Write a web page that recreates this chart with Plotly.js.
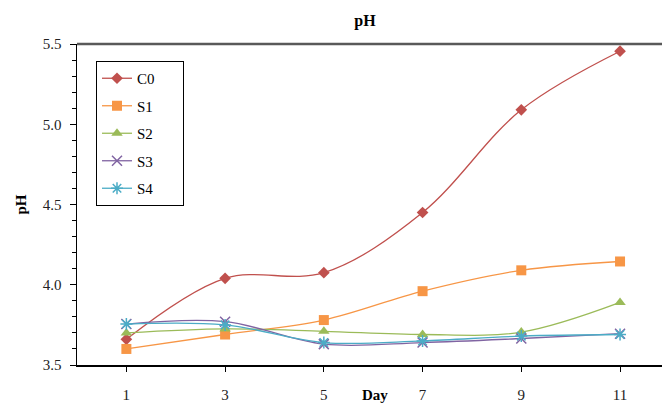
<!DOCTYPE html>
<html>
<head>
<meta charset="utf-8">
<script src="https://cdn.plot.ly/plotly-3.0.1.min.js"></script>
<style>html,body{margin:0;padding:0;background:#fff;}#chart{width:662px;height:403px;}</style>
</head>
<body>
<div id="chart"></div>
<script>
const days = [1, 3, 5, 7, 9, 11];
const seriesNames = ["C0", "S1", "S2", "S3", "S4"];
const C0 = [3.66, 4.04, 4.075, 4.45, 5.09, 5.455];
const S1 = [3.60, 3.69, 3.78, 3.96, 4.09, 4.145];
const S2 = [3.70, 3.725, 3.71, 3.69, 3.705, 3.89];
const S3 = [3.755, 3.77, 3.63, 3.64, 3.665, 3.695];
const S4 = [3.755, 3.75, 3.64, 3.65, 3.68, 3.69];
const yTicks = [3.5, 4.0, 4.5, 5.0, 5.5];

const values = [C0, S1, S2, S3, S4];
const colors = ["#C0504D", "#F79646", "#9BBB59", "#8064A2", "#4BACC6"];
const symbols = ["diamond", "square", "triangle-up", "x-thin-open", "asterisk-open"];
const sizes = [9, 10, 10, 10, 10];

const font = "Liberation Serif, Times New Roman, serif";

const traces = seriesNames.map((n, i) => ({
  x: days, y: values[i], name: n + "\u00a0\u00a0\u00a0\u00a0\u00a0\u00a0", type: "scatter", mode: "lines+markers",
  legendgroup: n,
  line: {color: colors[i], width: 1.3, shape: "spline", smoothing: 1},
  marker: {symbol: symbols[i], color: colors[i], size: sizes[i],
           line: {color: colors[i], width: (i >= 3 ? 1.5 : 0)}}
}));

const layout = {
  width: 662, height: 403,
  margin: {l: 77, r: 0, t: 44, b: 38},
  paper_bgcolor: "#fff", plot_bgcolor: "#fff",
  font: {family: font, size: 14, color: "#222"},
  title: {text: "<b>pH</b>", x: 365/662, xref: "container", xanchor: "center",
          y: 1 - 20/403, yref: "container", yanchor: "middle",
          font: {family: font, size: 16, color: "#000"}},
  xaxis: {range: [0, 11.85], tickvals: days, ticktext: days.map(String),
          showgrid: false, zeroline: false, showline: true, linecolor: "#000", linewidth: 1.5,
          ticks: "outside", ticklen: 5, tickcolor: "#000", ticklabelstandoff: 10,
          tickfont: {family: font, size: 15, color: "#222"}},
  yaxis: {range: [3.5, 5.5], tickvals: yTicks, ticktext: yTicks.map(v => v.toFixed(1)),
          showgrid: false, zeroline: false, showline: true, linecolor: "#000", linewidth: 1.5,
          ticks: "outside", ticklen: 6, tickcolor: "#000", ticklabelstandoff: 5,
          minor: {dtick: 0.1, tick0: 3.5, ticks: "outside", ticklen: 4, tickcolor: "#000"},
          tickfont: {family: font, size: 15, color: "#222"}},
  showlegend: true,
  legend: {x: (96-77)/585, y: 1 - (61-44)/321, xanchor: "left", yanchor: "top",
           bgcolor: "#fff", bordercolor: "#000", borderwidth: 1,
           font: {family: font, size: 15, color: "#000"},
           traceorder: "grouped", tracegroupgap: 5, itemwidth: 30},
  shapes: [{type: "line", xref: "paper", yref: "paper", x0: 0, x1: 1, y0: 1, y1: 1,
            line: {color: "#595959", width: 2.5}}],
  annotations: [
    {text: "<b>Day</b>", xref: "paper", yref: "paper", x: (375-77)/585, y: -(395-365)/321,
     xanchor: "center", yanchor: "middle", showarrow: false,
     font: {family: font, size: 15, color: "#000"}},
    {text: "<b>pH</b>", xref: "paper", yref: "paper", x: (20-77)/585, y: 0.5, textangle: -90,
     xanchor: "center", yanchor: "middle", showarrow: false,
     font: {family: font, size: 15, color: "#000"}}
  ]
};

Plotly.newPlot("chart", traces, layout, {staticPlot: true, displayModeBar: false});
</script>
</body>
</html>
